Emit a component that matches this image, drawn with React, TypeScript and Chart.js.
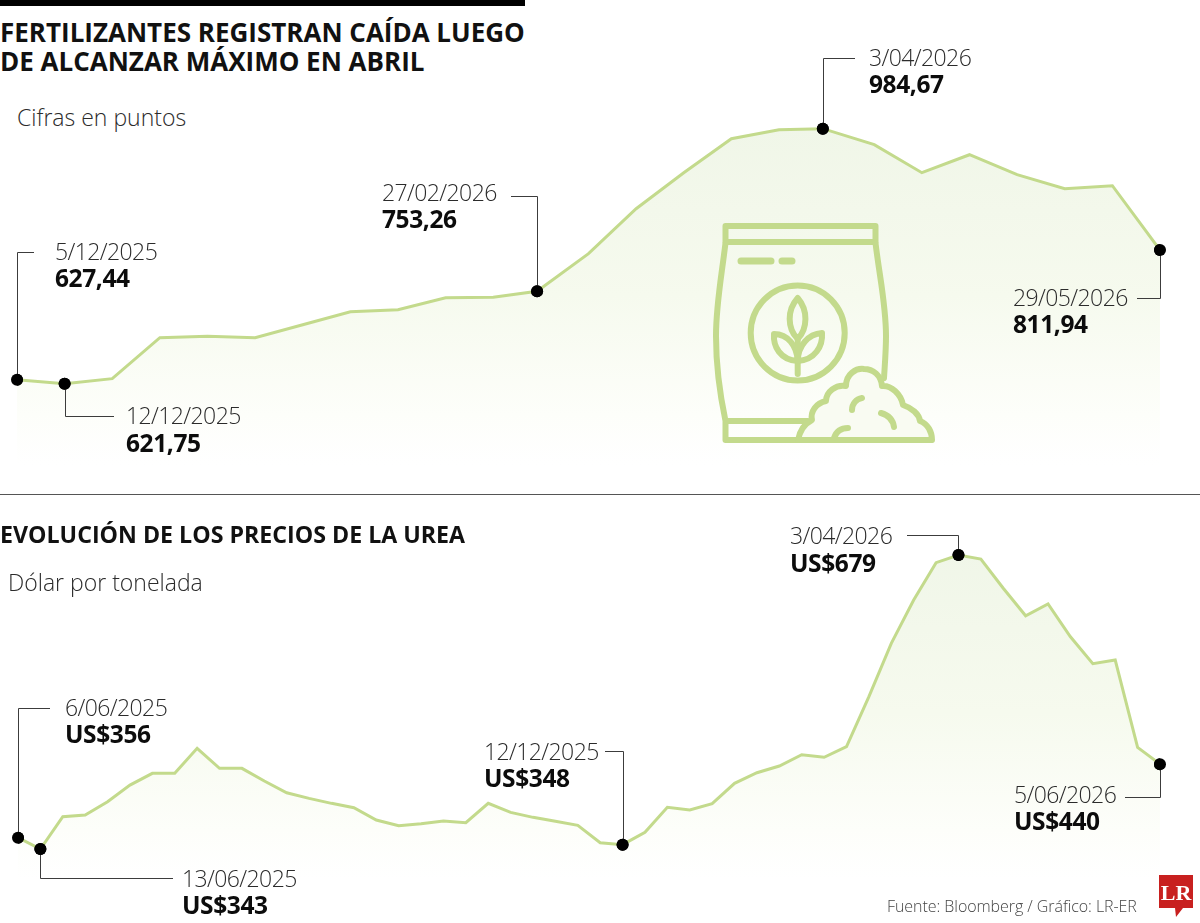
import React, { useEffect, useRef } from "react";
import { Chart, registerables } from "chart.js";

Chart.register(...registerables);

// ---------- data ----------
const fertDates = [
  "5/12/2025", "12/12/2025", "19/12/2025", "2/01/2026", "9/01/2026", "16/01/2026", "23/01/2026", "30/01/2026",
  "6/02/2026", "13/02/2026", "20/02/2026", "27/02/2026", "6/03/2026", "13/03/2026", "20/03/2026", "27/03/2026",
  "31/03/2026", "3/04/2026", "10/04/2026", "17/04/2026", "24/04/2026", "1/05/2026", "8/05/2026", "15/05/2026", "29/05/2026",
];
const fertValues = [
  627.44, 621.75, 628.9, 687.2, 689.3, 687.2, 705.7, 724.2, 727, 744.1, 744.6, 753.26,
  806.8, 870.8, 922, 970.4, 983.2, 984.67, 961.9, 922, 947.6, 919.2, 899.2, 903.5, 811.94,
];
const fertSteps = [
  0, 1, 2, 3, 4, 5, 6, 7, 8, 9, 10, 10.92, 12, 13, 14, 15, 16, 16.92, 18, 19, 20, 21, 22, 23, 24,
];
const ureaDates = [
  "6/06/2025", "13/06/2025", "20/06/2025", "27/06/2025", "4/07/2025", "11/07/2025", "18/07/2025", "25/07/2025",
  "1/08/2025", "8/08/2025", "15/08/2025", "22/08/2025", "29/08/2025", "5/09/2025", "12/09/2025", "19/09/2025",
  "26/09/2025", "3/10/2025", "10/10/2025", "17/10/2025", "24/10/2025", "31/10/2025", "7/11/2025", "14/11/2025",
  "21/11/2025", "28/11/2025", "5/12/2025", "12/12/2025", "19/12/2025", "2/01/2026", "9/01/2026", "16/01/2026",
  "23/01/2026", "30/01/2026", "6/02/2026", "13/02/2026", "20/02/2026", "27/02/2026", "6/03/2026", "13/03/2026",
  "20/03/2026", "27/03/2026", "3/04/2026", "10/04/2026", "17/04/2026", "24/04/2026", "1/05/2026", "8/05/2026",
  "15/05/2026", "22/05/2026", "29/05/2026", "5/06/2026",
];
const ureaValues = [
  356, 343, 379.9, 381.9, 397.1, 416.1, 429.5, 429.5, 458.1, 435.2, 435.2, 420.7, 407.3, 400.9, 395.2, 390.2,
  376.1, 369.6, 371.9, 375, 373.1, 395.2, 384.9, 379.2, 374.7, 370.1, 350.2, 348, 362.1, 390.7, 387.6, 394.8,
  418.1, 430.2, 437.9, 450.8, 447.8, 459.9, 517.1, 578.1, 627.6, 670.2, 679, 674.4, 641, 609.6, 623, 585.6,
  554.8, 559, 459.2, 440,
];
const fertCalloutIndex = [0, 1, 11, 17, 24];
const ureaCalloutIndex = [0, 1, 27, 42, 51];

const titleFert = ["FERTILIZANTES REGISTRAN CAÍDA LUEGO", "DE ALCANZAR MÁXIMO EN ABRIL"];
const titleUrea = "EVOLUCIÓN DE LOS PRECIOS DE LA UREA";
const unitFert = "Cifras en puntos";
const unitUrea = "Dólar por tonelada";
const sourceText = "Fuente: Bloomberg / Gráfico: LR-ER";

// ---------- layout (page pixels) ----------
const fertLayout = [
  { elbowY: 252, endX: 34, textX: 55, dateY: 251, valueY: 278 },
  { elbowY: 416, endX: 114, textX: 126, dateY: 415, valueY: 443 },
  { elbowY: 196, endX: 511, textX: 382, dateY: 192, valueY: 219 },
  { elbowY: 58, endX: 855, textX: 869, dateY: 57, valueY: 84 },
  { elbowY: 298, endX: 1137, textX: 1013, dateY: 297, valueY: 324 },
];
const ureaLayout = [
  { elbowY: 708, endX: 50, textX: 65, dateY: 707, valueY: 734 },
  { elbowY: 878, endX: 173, textX: 182, dateY: 878, valueY: 905 },
  { elbowY: 751, endX: 605, textX: 484, dateY: 751, valueY: 778 },
  { elbowY: 535, endX: 907, textX: 790, dateY: 535, valueY: 563 },
  { elbowY: 797, endX: 1125, textX: 1014, dateY: 794, valueY: 821 },
];

const GREEN = "#c3da8c";
const SANS = '"Open Sans", "Noto Sans", sans-serif';

function makeChart(
  canvas: HTMLCanvasElement,
  labels: string[],
  positions: number[],
  values: number[],
  calloutIndex: number[],
  layout: typeof fertLayout,
  padding: { top: number; bottom: number; left: number; right: number },
  yMin: number,
  yMax: number,
) {
  const leaderPlugin = {
    id: "leaders",
    afterDatasetsDraw(chart: any) {
      const pts = chart.getDatasetMeta(0).data;
      const ctx = chart.ctx;
      ctx.save();
      ctx.strokeStyle = "#3c3c3c";
      ctx.lineWidth = 1;
      calloutIndex.forEach((idx, i) => {
        const p = pts[idx];
        const x = Math.round(p.x) + 0.5;
        ctx.beginPath();
        ctx.moveTo(x, p.y);
        ctx.lineTo(x, layout[i].elbowY + 0.5);
        ctx.lineTo(layout[i].endX, layout[i].elbowY + 0.5);
        ctx.stroke();
      });
      ctx.restore();
    },
    // dots are repainted above the leader lines
    afterDraw(chart: any) {
      const pts = chart.getDatasetMeta(0).data;
      const ctx = chart.ctx;
      ctx.save();
      ctx.fillStyle = "#000";
      calloutIndex.forEach((idx) => {
        ctx.beginPath();
        ctx.arc(pts[idx].x, pts[idx].y, 6, 0, Math.PI * 2);
        ctx.fill();
      });
      ctx.restore();
    },
  };
  return new Chart(canvas, {
    type: "line",
    data: {
      labels,
      datasets: [
        {
          data: values.map((y, i) => ({ x: positions[i], y })),
          borderColor: GREEN,
          borderWidth: 3,
          tension: 0,
          fill: "start",
          pointRadius: (c: any) => (calloutIndex.includes(c.dataIndex) ? 6 : 0),
          pointBackgroundColor: "#000",
          pointBorderWidth: 0,
          backgroundColor: (c: any) => {
            const area = c.chart.chartArea;
            if (!area) return "#f3f8ea";
            const g = c.chart.ctx.createLinearGradient(0, area.top + 25, 0, area.bottom);
            g.addColorStop(0, "#f0f6e8");
            g.addColorStop(0.5, "#f6faee");
            g.addColorStop(0.85, "#fdfefa");
            g.addColorStop(1, "#ffffff");
            return g;
          },
        },
      ],
    },
    options: {
      responsive: false,
      animation: false,
      layout: { padding },
      plugins: { legend: { display: false }, title: { display: false }, tooltip: { enabled: false } },
      scales: {
        x: { type: "linear", display: false, min: positions[0], max: positions[positions.length - 1] },
        y: { type: "linear", display: false, min: yMin, max: yMax },
      },
    },
    plugins: [leaderPlugin],
  } as any);
}

const abs = (x: number, y: number): React.CSSProperties => ({
  position: "absolute",
  left: x,
  top: y,
  transform: "translateY(-50%)",
  whiteSpace: "nowrap",
  lineHeight: 1,
  fontFamily: SANS,
});

function Callouts({ labels, values, index, layout, fmt }: any) {
  return (
    <>
      {index.map((idx: number, i: number) => (
        <React.Fragment key={idx}>
          <div style={{ ...abs(layout[i].textX, layout[i].dateY), fontSize: 23, fontWeight: 300, color: "#2b2b2b", letterSpacing: -0.6 }}>
            {labels[idx]}
          </div>
          <div style={{ ...abs(layout[i].textX, layout[i].valueY), fontSize: 24.5, fontWeight: 700, color: "#0c0c0c", letterSpacing: -0.4 }}>
            {fmt(values[idx])}
          </div>
        </React.Fragment>
      ))}
    </>
  );
}

function BagIcon() {
  return (
    <svg width={1200} height={923} style={{ position: "absolute", left: 0, top: 0 }} fill="none" stroke={GREEN} strokeWidth={6} strokeLinejoin="round" strokeLinecap="round">
      <rect x={725.5} y={226} width={150} height={16} />
      <path d="M725.5 243 C721 280 716 305 716 336 C716 370 720 395 725.5 421 L725.5 440 L931 440" />
      <path d="M875.5 243 C880 280 886 305 886 336 C886 350 885 362 884 378" />
      <path d="M726 421 L808 421" />
      <path d="M741 261 L771 261 M782 261 L792 261" strokeWidth={7} />
      <ellipse cx={797.7} cy={333} rx={47} ry={47.5} />
      <path d="M797.7 340 L797.7 374" />
      <path d="M797.7 339 C787 328 787 310 797.7 298 C808 310 808 328 797.7 339 Z" />
      <path d="M797.7 361 C780 360 773 346 774 334 C788 334 797 346 797.7 361 Z" />
      <path d="M797.7 361 C815 360 823 346 822 333 C808 334 798 346 797.7 361 Z" />
      <path
        d="M798 440 C800 430 804 424 812 420 C810 412 816 403 826 401 C826 392 836 384 846 386 C846 374 856 368 864 369 C873 369 881 375 882 386 C891 385 901 394 903 405 C912 408 919 414 920 421 C928 424 932 432 932 440 Z"
        fill="#f9fbf2"
      />
      <path d="M862 398 C856 399 852 404 852 410 M881 413 C888 415 893 420 894 427 M848 428 C841 428 836 432 834 438" />
    </svg>
  );
}

export default function App() {
  const topRef = useRef<HTMLCanvasElement>(null);
  const botRef = useRef<HTMLCanvasElement>(null);

  useEffect(() => {
    const a = makeChart(topRef.current!, fertDates, fertSteps, fertValues, fertCalloutIndex, fertLayout,
      { top: 100.7, bottom: 923 - 465.7, left: 17, right: 40 }, 505, 1024.5);
    const b = makeChart(botRef.current!, ureaDates, ureaDates.map((_, i) => i), ureaValues, ureaCalloutIndex, ureaLayout,
      { top: 520, bottom: 923 - 880, left: 18, right: 40 }, 307.6, 719);
    return () => {
      a.destroy();
      b.destroy();
    };
  }, []);

  const canvasStyle: React.CSSProperties = { position: "absolute", left: 0, top: 0, display: "block" };

  return (
    <div style={{ position: "fixed", left: 0, top: 0, width: 1200, height: 923, background: "#fff", overflow: "hidden" }}>
      <div style={{ position: "absolute", left: 0, top: 0, width: 525, height: 6, background: "#000" }} />
      <div style={{ ...abs(0, 32), fontSize: 26, fontWeight: 700, color: "#111" }}>{titleFert[0]}</div>
      <div style={{ ...abs(0, 61), fontSize: 26, fontWeight: 700, color: "#111" }}>{titleFert[1]}</div>
      <div style={{ ...abs(17, 117), fontSize: 23, fontWeight: 300, color: "#2b2b2b" }}>{unitFert}</div>

      <canvas ref={topRef} width={1200} height={923} style={canvasStyle} />
      <canvas ref={botRef} width={1200} height={923} style={canvasStyle} />
      <BagIcon />

      <div style={{ position: "absolute", left: 0, top: 494, width: 1200, height: 1, background: "#555" }} />
      <div style={{ ...abs(0, 535), fontSize: 23.2, fontWeight: 700, color: "#111" }}>{titleUrea}</div>
      <div style={{ ...abs(8, 582), fontSize: 23, fontWeight: 300, color: "#2b2b2b" }}>{unitUrea}</div>

      <Callouts labels={fertDates} values={fertValues} index={fertCalloutIndex} layout={fertLayout}
        fmt={(v: number) => v.toFixed(2).replace(".", ",")} />
      <Callouts labels={ureaDates} values={ureaValues} index={ureaCalloutIndex} layout={ureaLayout}
        fmt={(v: number) => "US$" + v} />

      <div style={{ ...abs(887, 906), fontSize: 16, fontWeight: 300, color: "#444", letterSpacing: -0.06 }}>{sourceText}</div>

      <svg width={40} height={46} style={{ position: "absolute", left: 1158, top: 874 }}>
        <path d="M1 1 H35 V34 H25 L18 43 L17 34 H1 Z" fill="#c8201f" />
        <text x={18} y={26} textAnchor="middle" fontFamily='"Liberation Serif", serif' fontWeight={700} fontSize={22} fill="#fff">LR</text>
      </svg>
    </div>
  );
}
